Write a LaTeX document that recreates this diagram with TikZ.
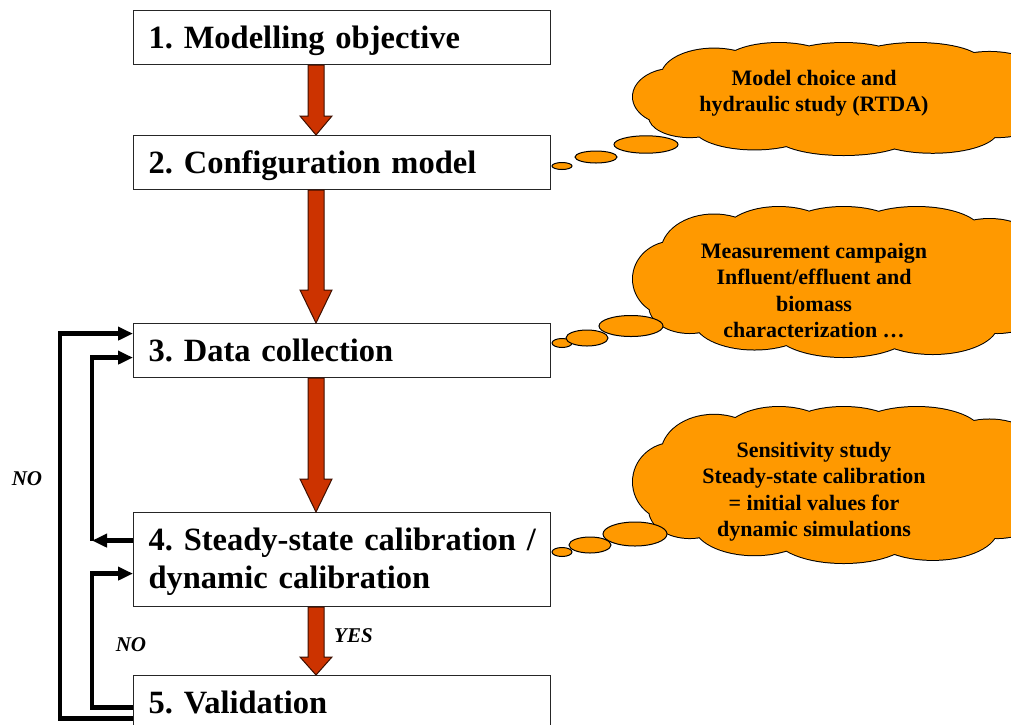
\documentclass[tikz,border=0pt]{standalone}
\usepackage{fontspec}
\setmainfont{Liberation Serif}
\usetikzlibrary{arrows.meta,calc}
\definecolor{arrred}{HTML}{CC3300}
\definecolor{cloudor}{HTML}{FF9900}
\frenchspacing
\newcommand{\redblockarrow}[3]{%
  \draw[redarrow] let \p1=(#1.south), \p2=(#2.north) in
    (308pt,\y1) -- (324pt,\y1) -- (324pt,\y2+#3) -- (332pt,\y2+#3) -- (316pt,\y2)
    -- (300pt,\y2+#3) -- (308pt,\y2+#3) -- cycle;}
\newcommand{\cloudpuffs}[1]{%
  \path[#1]
    (0.10,0.48) ellipse [x radius=0.10, y radius=0.25]
    (0.20,0.30) ellipse [x radius=0.13, y radius=0.25]
    (0.36,0.20) ellipse [x radius=0.14, y radius=0.20]
    (0.52,0.15) ellipse [x radius=0.14, y radius=0.15]
    (0.70,0.17) ellipse [x radius=0.16, y radius=0.17]
    (0.88,0.30) ellipse [x radius=0.13, y radius=0.22]
    (0.90,0.62) ellipse [x radius=0.12, y radius=0.22]
    (0.74,0.78) ellipse [x radius=0.16, y radius=0.20]
    (0.52,0.82) ellipse [x radius=0.17, y radius=0.18]
    (0.30,0.75) ellipse [x radius=0.15, y radius=0.20]
    (0.14,0.66) ellipse [x radius=0.10, y radius=0.18]
    (0.50,0.50) ellipse [x radius=0.40, y radius=0.35];}
\newcommand{\orangecloud}[4]{% left, top, width, height
  \begin{scope}[shift={(#1,#2)}, x=#3pt, y=-#4pt]
    \cloudpuffs{draw=black, line width=2pt}
    \cloudpuffs{fill=cloudor}
  \end{scope}}
\begin{document}
\begin{tikzpicture}[x=1pt,y=-1pt,
  stepbox/.style={draw=black!85, line width=1.2pt, fill=white, anchor=north west,
    minimum width=417pt, minimum height=54pt, text width=387pt, inner xsep=15pt, inner ysep=0pt,
    align=left, text height=27pt, text depth=5pt, font=\fontsize{32.5}{38}\selectfont\bfseries},
  redarrow/.style={fill=arrred, draw=black!70!arrred, line width=1pt, line join=miter},
  loopline/.style={line width=4.5pt, draw=black, -{Triangle[length=15pt,width=13pt]}},
  cloudtext/.style={anchor=north, align=center, inner sep=0pt,
    font=\fontsize{22}{26.5}\selectfont\bfseries},
  bubble/.style={draw=black, line width=1pt, fill=cloudor},
  lbl/.style={font=\fontsize{21}{24}\selectfont\bfseries\itshape, inner sep=0pt}
]
\useasboundingbox (0,0) rectangle (1011,724);
\clip (0,0) rectangle (1011,724);

% clouds
\orangecloud{633}{43}{405}{112}
\node[cloudtext] (t1) at (814,70) {Model choice and\\hydraulic study (RTDA)};
\draw[bubble] (562,166) ellipse [x radius=10pt, y radius=3.5pt];
\draw[bubble] (596,157) ellipse [x radius=21pt, y radius=6pt];
\draw[bubble] (646,144.5) ellipse [x radius=32pt, y radius=8.7pt];

\orangecloud{633}{207}{405}{150}
\node[cloudtext] (t2) at (814,243) {Measurement campaign\\Influent/effluent and\\biomass\\characterization \dots};
\draw[bubble] (562,343) ellipse [x radius=10pt, y radius=4.5pt];
\draw[bubble] (587,338) ellipse [x radius=21pt, y radius=8pt];
\draw[bubble] (631,326) ellipse [x radius=32pt, y radius=10.5pt];

\orangecloud{633}{407}{405}{156}
\node[cloudtext] (t3) at (814,442) {Sensitivity study\\Steady-state calibration\\= initial values for\\dynamic simulations};
\draw[bubble] (562,552) ellipse [x radius=10pt, y radius=4.5pt];
\draw[bubble] (590,545) ellipse [x radius=21pt, y radius=8pt];
\draw[bubble] (635,534) ellipse [x radius=32pt, y radius=12pt];

% boxes
\node[stepbox] (b1) at (133,10) {1. Modelling objective};
\node[stepbox] (b2) at (133,135) {2. Configuration model};
\node[stepbox] (b3) at (133,323) {3. Data collection};
\node[stepbox, minimum height=94pt, text depth=45pt] (b4) at (133,512) {\mbox{4. Steady-state calibration /}\\dynamic calibration};
\node[stepbox] (b5) at (133,675) {5. Validation};

% red block arrows
\redblockarrow{b1}{b2}{19pt}
\redblockarrow{b2}{b3}{33pt}
\redblockarrow{b3}{b4}{33pt}
\redblockarrow{b4}{b5}{18pt}

% feedback loops
\draw[loopline] ([yshift=-16pt]b5.west) -- ++(-73,0) |- ([yshift=17pt]b3.west);
\draw[loopline] ([yshift=19pt]b4.west) -- ++(-41,0) coordinate (c1);
\draw[loopline] (c1) |- ([yshift=-7pt]b3.west);
\draw[loopline] ([yshift=-5pt]b5.west) -- ++(-41,0) |- ([yshift=-14pt]b4.west);

% labels
\node[lbl] (no1) at (27,479) {NO};
\node[lbl] (no2) at (131,645) {NO};
\node[lbl, anchor=west] (yes) at (334,636) {YES};
\end{tikzpicture}
\end{document}
